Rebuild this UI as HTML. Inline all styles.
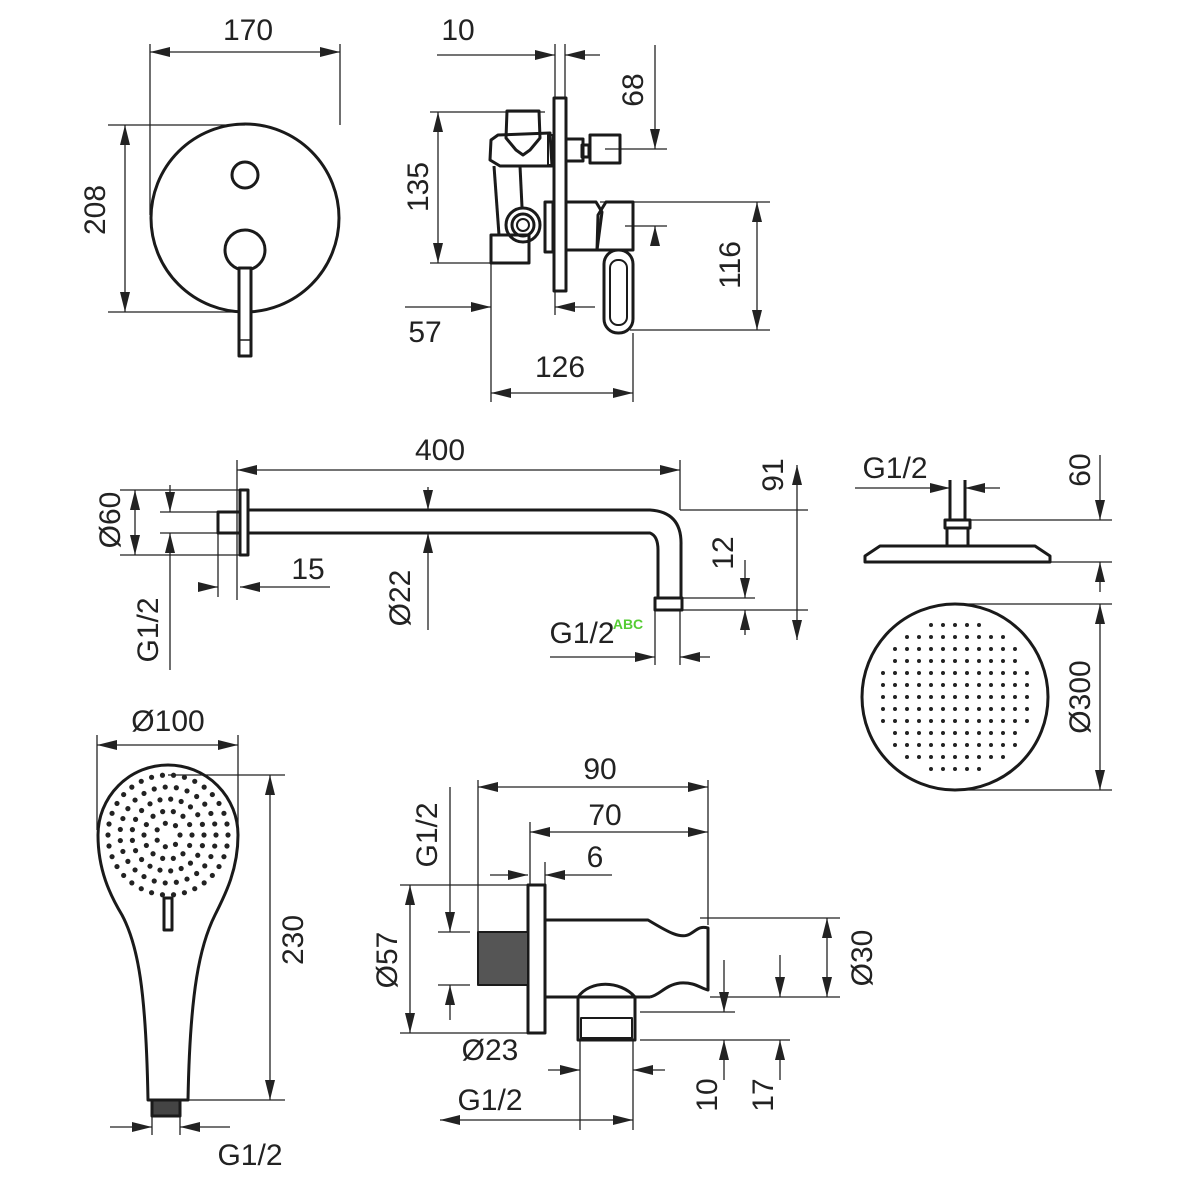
<!DOCTYPE html>
<html><head><style>html,body{margin:0;padding:0;background:#fff}svg{display:block}text{font-family:"Liberation Sans",sans-serif;font-size:30px;fill:#222}</style></head><body>
<svg width="1200" height="1200" viewBox="0 0 1200 1200" xmlns="http://www.w3.org/2000/svg">
<defs>
<marker id="a" viewBox="0 0 20 10" refX="20" refY="5" markerWidth="20" markerHeight="10" markerUnits="userSpaceOnUse" orient="auto-start-reverse"><path d="M0,0 L20,5 L0,10 z" fill="#222"/></marker>
</defs>
<g stroke="#222" stroke-width="1.3" fill="none">
<!-- ===== top left ===== -->
<line x1="150" y1="52" x2="340" y2="52" marker-start="url(#a)" marker-end="url(#a)"/>
<line x1="150" y1="44" x2="150" y2="215"/><line x1="340" y1="44" x2="340" y2="125"/>
<line x1="125" y1="125" x2="125" y2="312" marker-start="url(#a)" marker-end="url(#a)"/>
<line x1="108" y1="125" x2="245" y2="125"/><line x1="108" y1="312" x2="245" y2="312"/>
<!-- ===== top middle dims ===== -->
<line x1="437" y1="55" x2="555" y2="55" marker-end="url(#a)"/><line x1="600" y1="55" x2="565" y2="55" marker-end="url(#a)"/>
<line x1="555" y1="44" x2="555" y2="98"/><line x1="565" y1="44" x2="565" y2="98"/>
<line x1="438" y1="112" x2="438" y2="263" marker-start="url(#a)" marker-end="url(#a)"/>
<line x1="430" y1="112" x2="545" y2="112"/><line x1="430" y1="263" x2="495" y2="263"/>
<line x1="655" y1="45" x2="655" y2="149" marker-end="url(#a)"/><line x1="655" y1="246" x2="655" y2="226" marker-end="url(#a)"/>
<line x1="605" y1="149" x2="667" y2="149"/><line x1="625" y1="226" x2="667" y2="226"/>
<line x1="757" y1="202" x2="757" y2="330" marker-start="url(#a)" marker-end="url(#a)"/>
<line x1="600" y1="202" x2="770" y2="202"/><line x1="630" y1="330" x2="770" y2="330"/>
<line x1="405" y1="307" x2="491" y2="307" marker-end="url(#a)"/><line x1="595" y1="307" x2="555" y2="307" marker-end="url(#a)"/>
<line x1="491" y1="263" x2="491" y2="402"/><line x1="555" y1="292" x2="555" y2="315"/>
<line x1="491" y1="393" x2="633" y2="393" marker-start="url(#a)" marker-end="url(#a)"/>
<line x1="633" y1="333" x2="633" y2="402"/>
<!-- ===== arm dims ===== -->
<line x1="237" y1="470" x2="680" y2="470" marker-start="url(#a)" marker-end="url(#a)"/>
<line x1="237" y1="460" x2="237" y2="600"/><line x1="680" y1="460" x2="680" y2="510"/>
<line x1="135" y1="490" x2="135" y2="555" marker-start="url(#a)" marker-end="url(#a)"/>
<line x1="120" y1="490" x2="240" y2="490"/><line x1="120" y1="555" x2="240" y2="555"/>
<line x1="170" y1="485" x2="170" y2="512" marker-end="url(#a)"/><line x1="170" y1="670" x2="170" y2="533" marker-end="url(#a)"/>
<line x1="160" y1="512" x2="218" y2="512"/><line x1="160" y1="533" x2="218" y2="533"/>
<line x1="207" y1="587" x2="218" y2="587" marker-end="url(#a)"/><line x1="330" y1="587" x2="240" y2="587" marker-end="url(#a)"/>
<line x1="218" y1="533" x2="218" y2="597"/>
<line x1="428" y1="487" x2="428" y2="510" marker-end="url(#a)"/><line x1="428" y1="630" x2="428" y2="533" marker-end="url(#a)"/>
<line x1="745" y1="560" x2="745" y2="598" marker-end="url(#a)"/><line x1="745" y1="635" x2="745" y2="610" marker-end="url(#a)"/>
<line x1="682" y1="598" x2="755" y2="598"/><line x1="682" y1="610" x2="755" y2="610"/>
<line x1="797" y1="465" x2="797" y2="640" marker-start="url(#a)" marker-end="url(#a)"/>
<line x1="680" y1="510" x2="808" y2="510"/><line x1="755" y1="610" x2="808" y2="610"/>
<line x1="550" y1="657" x2="655" y2="657" marker-end="url(#a)"/><line x1="710" y1="657" x2="680" y2="657" marker-end="url(#a)"/>
<line x1="655" y1="610" x2="655" y2="665"/><line x1="680" y1="610" x2="680" y2="665"/>
<!-- ===== head dims ===== -->
<line x1="855" y1="488" x2="950" y2="488" marker-end="url(#a)"/><line x1="1000" y1="488" x2="965" y2="488" marker-end="url(#a)"/>
<line x1="1100" y1="455" x2="1100" y2="520" marker-end="url(#a)"/><line x1="1100" y1="592" x2="1100" y2="562" marker-end="url(#a)"/>
<line x1="970" y1="520" x2="1112" y2="520"/><line x1="1050" y1="562" x2="1112" y2="562"/>
<line x1="1100" y1="604" x2="1100" y2="790" marker-start="url(#a)" marker-end="url(#a)"/>
<line x1="955" y1="604" x2="1112" y2="604"/><line x1="955" y1="790" x2="1112" y2="790"/>
<!-- ===== hand shower dims ===== -->
<line x1="97" y1="745" x2="238" y2="745" marker-start="url(#a)" marker-end="url(#a)"/>
<line x1="97" y1="735" x2="97" y2="830"/><line x1="238" y1="735" x2="238" y2="830"/>
<line x1="270" y1="775" x2="270" y2="1100" marker-start="url(#a)" marker-end="url(#a)"/>
<line x1="168" y1="775" x2="285" y2="775"/><line x1="180" y1="1100" x2="285" y2="1100"/>
<line x1="110" y1="1127" x2="152" y2="1127" marker-end="url(#a)"/><line x1="230" y1="1127" x2="180" y2="1127" marker-end="url(#a)"/>
<line x1="152" y1="1110" x2="152" y2="1135"/><line x1="180" y1="1110" x2="180" y2="1135"/>
<!-- ===== bottom middle dims ===== -->
<line x1="478" y1="787" x2="708" y2="787" marker-start="url(#a)" marker-end="url(#a)"/>
<line x1="478" y1="780" x2="478" y2="932"/><line x1="708" y1="780" x2="708" y2="925"/>
<line x1="530" y1="832" x2="708" y2="832" marker-start="url(#a)" marker-end="url(#a)"/>
<line x1="530" y1="822" x2="530" y2="885"/>
<line x1="490" y1="875" x2="528" y2="875" marker-end="url(#a)"/><line x1="612" y1="875" x2="545" y2="875" marker-end="url(#a)"/>
<line x1="545" y1="862" x2="545" y2="885"/>
<line x1="450" y1="787" x2="450" y2="932" marker-end="url(#a)"/><line x1="450" y1="1020" x2="450" y2="985" marker-end="url(#a)"/>
<line x1="438" y1="932" x2="470" y2="932"/><line x1="438" y1="985" x2="470" y2="985"/>
<line x1="410" y1="885" x2="410" y2="1033" marker-start="url(#a)" marker-end="url(#a)"/>
<line x1="400" y1="885" x2="528" y2="885"/><line x1="400" y1="1033" x2="528" y2="1033"/>
<line x1="548" y1="1070" x2="580" y2="1070" marker-end="url(#a)"/><line x1="665" y1="1070" x2="633" y2="1070" marker-end="url(#a)"/>
<line x1="440" y1="1120" x2="580" y2="1120" marker-start="url(#a)"/><line x1="580" y1="1120" x2="633" y2="1120" marker-end="url(#a)"/>
<line x1="580" y1="1040" x2="580" y2="1130"/><line x1="633" y1="1040" x2="633" y2="1130"/>
<line x1="827" y1="918" x2="827" y2="997" marker-start="url(#a)" marker-end="url(#a)"/>
<line x1="700" y1="918" x2="840" y2="918"/><line x1="710" y1="997" x2="840" y2="997"/>
<line x1="724" y1="960" x2="724" y2="1012" marker-end="url(#a)"/><line x1="724" y1="1080" x2="724" y2="1040" marker-end="url(#a)"/>
<line x1="780" y1="955" x2="780" y2="997" marker-end="url(#a)"/><line x1="780" y1="1080" x2="780" y2="1040" marker-end="url(#a)"/>
<line x1="640" y1="1012" x2="735" y2="1012"/><line x1="640" y1="1040" x2="790" y2="1040"/>
</g>

<!-- ===== object lines ===== -->
<g stroke="#1a1a1a" stroke-width="3" fill="none" stroke-linejoin="round">
<circle cx="245" cy="218" r="94"/>
<circle cx="245" cy="175" r="13"/>
<circle cx="245" cy="250" r="20"/>
<rect x="239" y="268" width="12" height="88" fill="#fff"/>
<line x1="239" y1="340" x2="251" y2="340" stroke-width="1.5"/>
<!-- valve -->
<rect x="554" y="98" width="12" height="193"/>
<path d="M507,111 L539,111 L540,138 L530,150 L523,155 L516,150 L506,138 Z"/>
<path d="M498,135 L550,133 L552,166 L500,166 L490,160 L491,140 Z"/>
<rect x="548" y="135" width="5" height="30" stroke-width="2"/>
<rect x="566" y="139" width="17" height="22"/><rect x="582" y="145" width="7" height="12"/>
<rect x="590" y="135" width="30" height="28"/>
<line x1="494" y1="166" x2="499" y2="235"/><line x1="520" y1="166" x2="522" y2="207"/>
<rect x="491" y="235" width="38" height="28"/>
<circle cx="523" cy="225" r="17"/><circle cx="523" cy="225" r="11"/><circle cx="523" cy="225" r="6" stroke-width="2"/>
<rect x="545" y="202" width="8" height="50"/>
<path d="M566,202 L596,202 L602,212 L597,250 L566,250"/>
<path d="M606,202 L633,202 L633,250 L597,250 L598,215 Z"/>
<rect x="604" y="250" width="29" height="83" rx="14"/>
<rect x="610" y="260" width="17" height="65" rx="8" stroke-width="2"/>
<!-- arm -->
<rect x="240" y="490" width="8" height="65"/>
<rect x="218" y="512" width="22" height="21"/>
<path d="M248,510 L650,510 Q682,512 681,545 L681,598"/>
<path d="M248,533 L650,533 Q658,536 658,550 L658,598"/>
<rect x="655" y="598" width="27" height="12"/>
<!-- head side -->
<line x1="950" y1="480" x2="950" y2="520"/><line x1="965" y1="480" x2="965" y2="520"/>
<rect x="945" y="520" width="25" height="8"/><rect x="947" y="528" width="21" height="18"/>
<path d="M880,546 L1035,546 L1050,556 L1050,562 L865,562 L865,556 Z"/>
<circle cx="955" cy="697" r="93"/>
<!-- hand shower -->
<path d="M98,835 A70,70 0 1 1 238,835 C238,870 225,895 215,915 C200,945 190,990 188,1100 L148,1100 C146,990 138,945 122,915 C110,895 98,870 98,835 Z"/>
<rect x="152" y="1100" width="28" height="16" fill="#444"/>
<rect x="164" y="898" width="8" height="32" fill="#fff"/>
<!-- bottom middle -->
<rect x="528" y="885" width="17" height="148"/>
<rect x="478" y="932" width="50" height="53" fill="#555" stroke-width="2"/>
<path d="M545,920 L648,920 C665,930 680,940 690,934 C698,929 700,926 708,928 L708,990 C700,988 695,982 680,983 C665,985 660,995 650,997"/>
<path d="M545,997 L578,997 C590,980 620,980 635,997 L650,997"/>
<rect x="578" y="997" width="57" height="43"/>
<rect x="581" y="1018" width="51" height="20" stroke-width="2"/>
</g>
<!-- shower head dots -->
<g fill="#222">
<script></script>
</g>
<g fill="#222" id="dots"></g>
<g fill="#222" id="hdots"></g>

<g>
<text x="248" y="40" text-anchor="middle">170</text>
<text transform="translate(105,210) rotate(-90)" text-anchor="middle">208</text>
<text x="458" y="40" text-anchor="middle">10</text>
<text transform="translate(428,187) rotate(-90)" text-anchor="middle">135</text>
<text transform="translate(643,90) rotate(-90)" text-anchor="middle">68</text>
<text transform="translate(740,265) rotate(-90)" text-anchor="middle">116</text>
<text x="425" y="342" text-anchor="middle">57</text>
<text x="560" y="377" text-anchor="middle">126</text>
<text x="440" y="460" text-anchor="middle">400</text>
<text transform="translate(120,520) rotate(-90)" text-anchor="middle">Ø60</text>
<text transform="translate(158,630) rotate(-90)" text-anchor="middle">G1/2</text>
<text x="308" y="579" text-anchor="middle">15</text>
<text transform="translate(410,598) rotate(-90)" text-anchor="middle">Ø22</text>
<text transform="translate(733,553) rotate(-90)" text-anchor="middle">12</text>
<text transform="translate(783,475) rotate(-90)" text-anchor="middle">91</text>
<text x="582" y="643" text-anchor="middle">G1/2</text>
<text x="628" y="629" text-anchor="middle" style="font-size:14px;font-weight:bold;fill:#5c3">ABC</text>
<text x="895" y="478" text-anchor="middle">G1/2</text>
<text transform="translate(1090,470) rotate(-90)" text-anchor="middle">60</text>
<text transform="translate(1090,697) rotate(-90)" text-anchor="middle">Ø300</text>
<text x="168" y="731" text-anchor="middle">Ø100</text>
<text transform="translate(303,940) rotate(-90)" text-anchor="middle">230</text>
<text x="250" y="1165" text-anchor="middle">G1/2</text>
<text x="600" y="779" text-anchor="middle">90</text>
<text x="605" y="825" text-anchor="middle">70</text>
<text x="595" y="867" text-anchor="middle">6</text>
<text transform="translate(437,835) rotate(-90)" text-anchor="middle">G1/2</text>
<text transform="translate(397,960) rotate(-90)" text-anchor="middle">Ø57</text>
<text x="490" y="1060" text-anchor="middle">Ø23</text>
<text x="490" y="1110" text-anchor="middle">G1/2</text>
<text transform="translate(872,958) rotate(-90)" text-anchor="middle">Ø30</text>
<text transform="translate(717,1095) rotate(-90)" text-anchor="middle">10</text>
<text transform="translate(773,1095) rotate(-90)" text-anchor="middle">17</text>
</g>
<g fill="#222">
<!-- head dots grid -->
<circle cx="955" cy="697" r="0"/>
</g>
<g id="grid" fill="#222"></g>
</svg>
<script>
(function(){
var ns="http://www.w3.org/2000/svg";
var g=document.getElementById("grid");
for(var x=-84;x<=84;x+=12)for(var y=-84;y<=84;y+=12){if(x*x+y*y<80*80){var c=document.createElementNS(ns,"circle");c.setAttribute("cx",955+x);c.setAttribute("cy",697+y);c.setAttribute("r",2);g.appendChild(c);}}
for(var r=12;r<=62;r+=12){var n=Math.round(2*Math.PI*r/11);for(var i=0;i<n;i++){var a=2*Math.PI*i/n;var c=document.createElementNS(ns,"circle");c.setAttribute("cx",168+r*Math.cos(a));c.setAttribute("cy",835+r*Math.sin(a));c.setAttribute("r",2.6);g.appendChild(c);}}
})();
</script>
</body></html>
